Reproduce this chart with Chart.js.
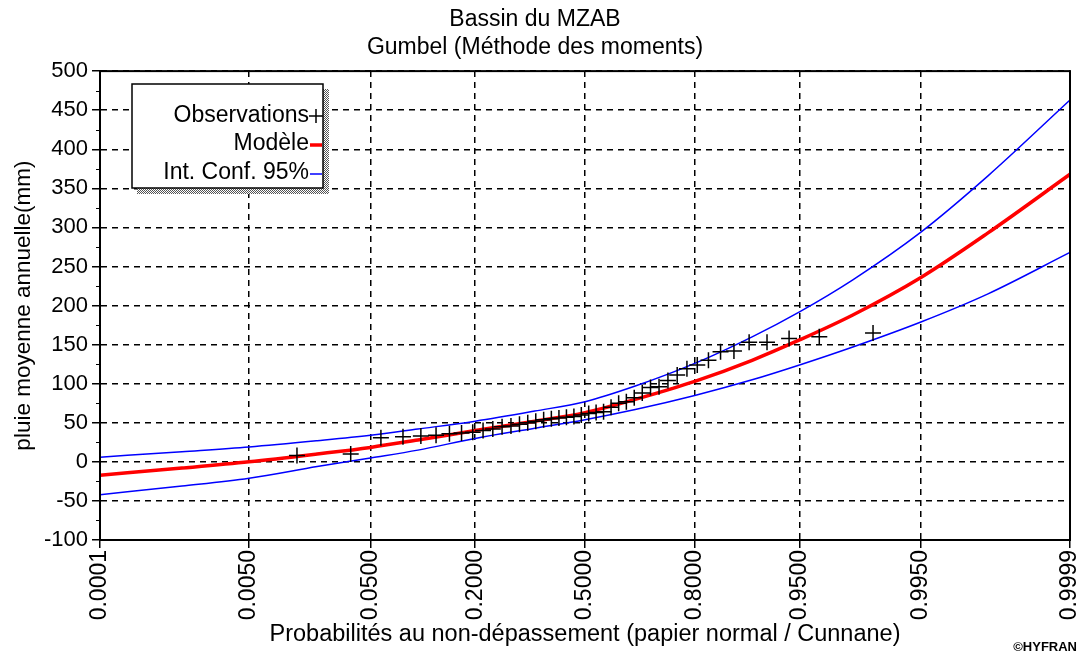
<!DOCTYPE html>
<html>
<head>
<meta charset="utf-8">
<title>Bassin du MZAB - Gumbel</title>
<script src="https://cdn.jsdelivr.net/npm/chart.js@4.4.1/dist/chart.umd.min.js"></script>
<style>
  body { margin: 0; background: #fff; }
  #wrap { width: 1083px; height: 659px; }
</style>
</head>
<body>
<div id="wrap"><canvas id="myChart" width="1083" height="659"></canvas></div>
<script>
// probability axis (normal paper)
var probTicks = [0.0001, 0.005, 0.05, 0.2, 0.5, 0.8, 0.95, 0.995, 0.9999];
var tickLabels = ['0.0001', '0.0050', '0.0500', '0.2000', '0.5000', '0.8000', '0.9500', '0.9950', '0.9999'];

// observed annual rainfall (mm) with Cunnane plotting positions
var obsProb = [0.0136, 0.0362, 0.0588, 0.0814, 0.1041, 0.1267, 0.1493, 0.1719, 0.1946, 0.2172,
               0.2398, 0.2624, 0.2851, 0.3077, 0.3303, 0.3529, 0.3756, 0.3982, 0.4208, 0.4434,
               0.4661, 0.4887, 0.5113, 0.5339, 0.5566, 0.5792, 0.6018, 0.6244, 0.6471, 0.6697,
               0.6923, 0.7149, 0.7376, 0.7602, 0.7828, 0.8054, 0.8281, 0.8507, 0.8733, 0.8959,
               0.9186, 0.9412, 0.9638, 0.9864];
var obsRain = [8, 10, 31, 32, 33, 34, 36, 37, 38, 40,
               42, 45, 46, 48, 50, 52, 54, 55, 56, 57,
               58, 60, 62, 63, 64, 70, 75, 77, 82, 88,
               95, 96, 104, 111, 119, 124, 130, 141, 142, 153,
               153, 158, 160, 165];

// fitted model and 95% confidence band
var curveProb = [0.0001, 0.001, 0.005, 0.02, 0.05, 0.1, 0.2, 0.35, 0.5, 0.65, 0.8, 0.9, 0.95, 0.98, 0.995, 0.999, 0.9999];
var modelRain = [-17, -8, 0, 10, 18.5, 28, 40, 52, 63, 80, 103, 130, 156, 188, 236, 293, 368];
var upperRain = [6, 13, 19, 27, 34, 42, 52, 65, 77, 97, 126, 160, 192, 233, 294, 366, 463];
var lowerRain = [-42, -31, -21, -6, 5, 15, 30, 43, 54, 67, 85, 105, 124, 147, 179, 215, 268];

// inverse of the standard normal cdf (Acklam)
function qnorm(p) {
  var a = [-39.69683028665376, 220.9460984245205, -275.9285104469687, 138.3577518672690, -30.66479806614716, 2.506628277459239];
  var b = [-54.47609879822406, 161.5858368580409, -155.6989798598866, 66.80131188771972, -13.28068155288572];
  var c = [-0.007784894002430293, -0.3223964580411365, -2.400758277161838, -2.549732539343734, 4.374664141464968, 2.938163982698783];
  var d = [0.007784695709041462, 0.3224671290700398, 2.445134137142996, 3.754408661907416];
  var q, r;
  if (p < 0.02425) {
    q = Math.sqrt(-2 * Math.log(p));
    return (((((c[0]*q+c[1])*q+c[2])*q+c[3])*q+c[4])*q+c[5]) / ((((d[0]*q+d[1])*q+d[2])*q+d[3])*q+1);
  }
  if (p > 1 - 0.02425) {
    q = Math.sqrt(-2 * Math.log(1 - p));
    return -(((((c[0]*q+c[1])*q+c[2])*q+c[3])*q+c[4])*q+c[5]) / ((((d[0]*q+d[1])*q+d[2])*q+d[3])*q+1);
  }
  q = p - 0.5;
  r = q * q;
  return (((((a[0]*r+a[1])*r+a[2])*r+a[3])*r+a[4])*r+a[5])*q / (((((b[0]*r+b[1])*r+b[2])*r+b[3])*r+b[4])*r+1);
}

// linear scale in normal-quantile space: values are given as probabilities
class ProbitScale extends Chart.LinearScale {
  parse(raw, index) {
    var v = super.parse(raw, index);
    return (v === null || v === undefined) ? v : qnorm(v);
  }
}
ProbitScale.id = 'probit';
ProbitScale.defaults = Chart.LinearScale.defaults;
Chart.register(ProbitScale);

function pts(xs, ys) {
  var out = [];
  for (var i in xs) {
    out.push({x: xs[i], y: ys[i]});
  }
  return out;
}

var FONT = "'Liberation Sans', Arial, sans-serif";

// hatched shadow under the legend box
var hatch = document.createElement('canvas');
hatch.width = 2; hatch.height = 2;
var hctx = hatch.getContext('2d');
hctx.fillStyle = '#fff'; hctx.fillRect(0, 0, 2, 2);
hctx.fillStyle = '#555'; hctx.fillRect(0, 0, 1, 1); hctx.fillRect(1, 1, 1, 1);

var decorations = {
  id: 'decorations',
  afterDraw: function(chart) {
    var ctx = chart.ctx;
    var area = chart.chartArea;
    var yScale = chart.scales.y;
    ctx.save();

    // frame
    ctx.strokeStyle = '#000';
    ctx.lineWidth = 2;
    ctx.strokeRect(area.left, area.top, area.right - area.left, area.bottom - area.top);

    // minor ticks on the rain axis
    ctx.lineWidth = 1.2;
    ctx.beginPath();
    for (var v = -75; v < 500; v += 50) {
      var py = Math.round(yScale.getPixelForValue(v)) + 0.5;
      ctx.moveTo(area.left - 4, py);
      ctx.lineTo(area.left, py);
    }
    ctx.stroke();

    // legend
    var bx = 132, by = 84, bw = 191, bh = 104;
    ctx.fillStyle = ctx.createPattern(hatch, 'repeat');
    ctx.fillRect(bx + 5, by + bh, bw, 6);
    ctx.fillRect(bx + bw, by + 5, 6, bh + 1);
    ctx.fillStyle = '#fff';
    ctx.fillRect(bx, by, bw, bh);
    ctx.strokeStyle = '#000';
    ctx.lineWidth = 1.5;
    ctx.strokeRect(bx, by, bw, bh);

    ctx.font = '23px ' + FONT;
    ctx.fillStyle = '#000';
    ctx.textAlign = 'right';
    ctx.textBaseline = 'middle';
    ctx.fillText('Observations', 309, 116);
    ctx.fillText('Modèle', 309, 144);
    ctx.fillText('Int. Conf. 95%', 309, 173);

    ctx.strokeStyle = '#000';
    ctx.lineWidth = 1.5;
    ctx.beginPath();
    ctx.moveTo(309, 116); ctx.lineTo(323, 116);
    ctx.moveTo(316, 109); ctx.lineTo(316, 123);
    ctx.stroke();
    ctx.strokeStyle = '#ff0000';
    ctx.lineWidth = 3.5;
    ctx.beginPath(); ctx.moveTo(310, 145); ctx.lineTo(322, 145); ctx.stroke();
    ctx.strokeStyle = '#0000ff';
    ctx.lineWidth = 1.5;
    ctx.beginPath(); ctx.moveTo(310, 174); ctx.lineTo(322, 174); ctx.stroke();

    // software mark
    ctx.font = 'bold 13px ' + FONT;
    ctx.textAlign = 'right';
    ctx.fillText('©HYFRAN', 1077, 647);
    ctx.restore();
  }
};

var ctx = document.getElementById('myChart');

var chart = new Chart(ctx, {
  type: 'line',
  data: {
    datasets: [
      {
        label: 'Observations',
        data: pts(obsProb, obsRain),
        showLine: false,
        pointStyle: 'cross',
        pointRadius: 8,
        pointBorderWidth: 1.5,
        borderColor: '#000',
        backgroundColor: '#000'
      },
      {
        label: 'Modèle',
        data: pts(curveProb, modelRain),
        borderColor: '#ff0000',
        borderWidth: 3.5,
        pointRadius: 0,
        cubicInterpolationMode: 'monotone'
      },
      {
        label: 'Int. Conf. 95% (sup)',
        data: pts(curveProb, upperRain),
        borderColor: '#0000ff',
        borderWidth: 1.5,
        pointRadius: 0,
        cubicInterpolationMode: 'monotone'
      },
      {
        label: 'Int. Conf. 95% (inf)',
        data: pts(curveProb, lowerRain),
        borderColor: '#0000ff',
        borderWidth: 1.5,
        pointRadius: 0,
        cubicInterpolationMode: 'monotone'
      }
    ]
  },
  options: {
    responsive: false,
    animation: false,
    devicePixelRatio: 1,
    layout: { padding: { left: 0, right: 13, top: 0, bottom: 0 } },
    plugins: {
      legend: { display: false },
      tooltip: { enabled: false },
      title: {
        display: true,
        text: ['Bassin du MZAB', 'Gumbel (Méthode des moments)'],
        color: '#000',
        font: { family: FONT, size: 23, weight: 'normal', lineHeight: 1.22 },
        padding: { top: 6, bottom: 9 }
      }
    },
    scales: {
      x: {
        type: 'probit',
        bounds: 'data',
        afterBuildTicks: function(scale) {
          scale.ticks = probTicks.map(function(p) { return {value: qnorm(p)}; });
        },
        afterFit: function(scale) {
          scale.height = 119;
          scale.paddingLeft = 0;
          scale.paddingRight = 0;
        },
        ticks: {
          autoSkip: false,
          minRotation: 90,
          maxRotation: 90,
          padding: 2,
          color: '#000',
          font: { family: FONT, size: 23 },
          callback: function(value, index) { return tickLabels[index]; }
        },
        grid: { color: '#000', lineWidth: 1.5, tickLength: 8, tickColor: '#000', tickWidth: 1.5 },
        border: { display: true, color: '#000', width: 2, dash: [6, 5] },
        title: {
          display: true,
          text: 'Probabilités au non-dépassement (papier normal / Cunnane)',
          color: '#000',
          font: { family: FONT, size: 23.5 },
          padding: { top: 0, bottom: 10 }
        }
      },
      y: {
        min: -100,
        max: 500,
        afterFit: function(scale) {
          scale.width = 100;
          scale.paddingTop = 0;
          scale.paddingBottom = 0;
        },
        ticks: {
          stepSize: 50,
          padding: 4,
          color: '#000',
          font: { family: FONT, size: 22 }
        },
        grid: { color: '#000', lineWidth: 1.5, tickLength: 8, tickColor: '#000', tickWidth: 1.5 },
        border: { display: true, color: '#000', width: 2, dash: [6, 5] },
        title: {
          display: true,
          text: 'pluie moyenne annuelle(mm)',
          color: '#000',
          font: { family: FONT, size: 22.5 },
          padding: { top: 10, bottom: 0 }
        }
      }
    }
  },
  plugins: [decorations]
});
</script>
</body>
</html>
